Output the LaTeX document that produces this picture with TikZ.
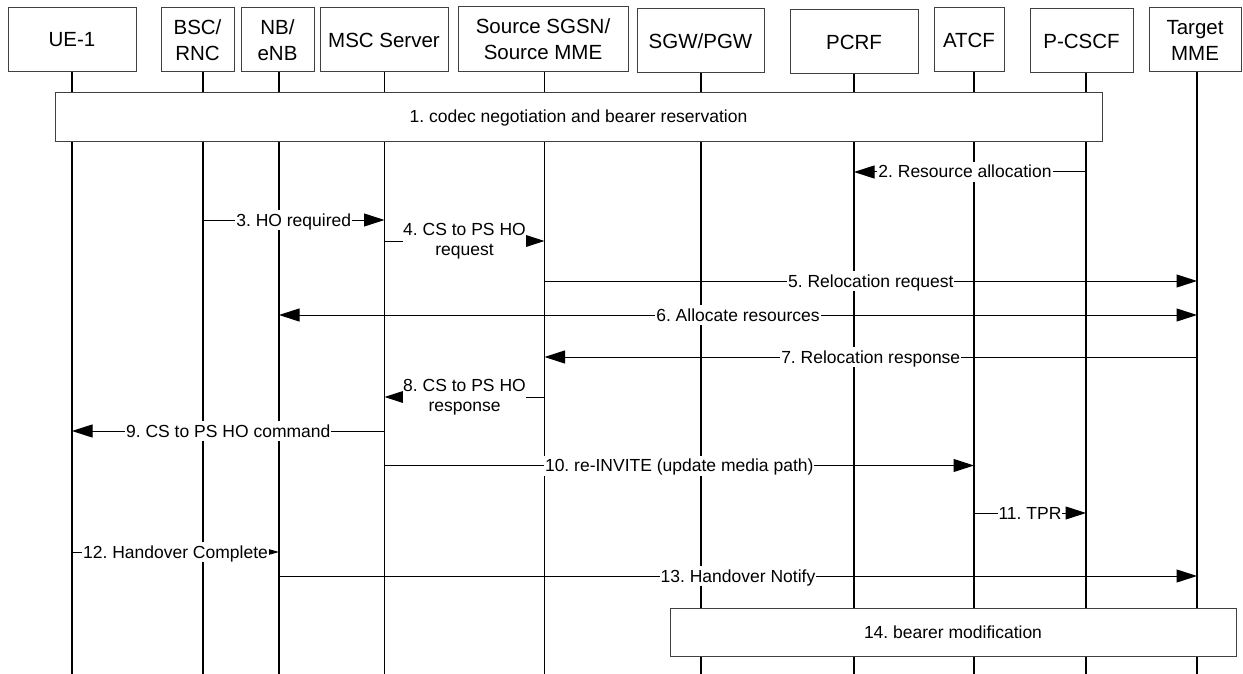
\documentclass[tikz,border=0pt]{standalone}
\usepackage{fontspec}
\setmainfont{Liberation Sans}
\usetikzlibrary{arrows.meta}
\newcommand\hdrfont{\fontsize{20.5}{26}\selectfont}
\newcommand\msgfont{\fontsize{17.5}{19.5}\selectfont}
\frenchspacing
\begin{document}
\begin{tikzpicture}[x=1pt,y=-1pt,
  >={Triangle[length=20.5pt,width=13pt]},
  hdr/.style={draw=black!75, line width=1pt, fill=white, align=center, font=\hdrfont, inner sep=0pt},
  life/.style={line width=1.2pt},
  msg/.style={line width=1pt},
  lbl/.style={fill=white, font=\msgfont, inner xsep=1pt, inner ysep=1.5pt, text height=14.5pt, text depth=2.5pt},
  lbltwo/.style={fill=white, font=\msgfont, align=center, inner xsep=0pt, inner ysep=0.5pt},
  bar/.style={draw=black!75, line width=1pt, fill=white, font=\msgfont, inner sep=0pt}]
\useasboundingbox (0,0) rectangle (1243,674);

% header boxes
\node[hdr, minimum width=128pt, minimum height=64pt] (ue)    at (72,40)      {UE-1};
\node[hdr, minimum width=73pt,  minimum height=64pt] (bsc)   at (197.5,40)   {BSC/\\RNC};
\node[hdr, minimum width=73pt,  minimum height=64pt] (nb)    at (277.5,40)   {NB/\\eNB};
\node[hdr, minimum width=128pt, minimum height=64pt] (msc)   at (384,40)     {MSC Server};
\node[hdr, minimum width=170pt, minimum height=65pt] (sgsn)  at (543,39.5)   {Source SGSN/\\Source MME};
\node[hdr, minimum width=127pt, minimum height=64pt] (sgw)   at (700.5,41)   {SGW/PGW};
\node[hdr, minimum width=128pt, minimum height=64pt] (pcrf)  at (854,42)     {PCRF};
\node[hdr, minimum width=70pt,  minimum height=64pt] (atcf)  at (969,40)     {ATCF};
\node[hdr, minimum width=103pt, minimum height=64pt] (pcscf) at (1081.5,41)  {P-CSCF};
\node[hdr, minimum width=92pt,  minimum height=64pt] (tmme)  at (1195,40)    {Target\\MME};

% lifeline tops
\coordinate (lUE)    at (72,72);
\coordinate (lBSC)   at (203,72);
\coordinate (lNB)    at (279,72);
\coordinate (lMSC)   at (384.5,72);
\coordinate (lSGSN)  at (544.5,72);
\coordinate (lSGW)   at (701,73);
\coordinate (lPCRF)  at (854,74);
\coordinate (lATCF)  at (974,72);
\coordinate (lPCSCF) at (1086,73);
\coordinate (lTMME)  at (1197,72);

\foreach \c in {lUE,lBSC,lNB,lMSC,lSGSN,lSGW,lPCRF,lATCF,lPCSCF,lTMME}
  \draw[life] (\c) -- (\c |- 0,674);

% bars
\node[bar, minimum width=1047pt, minimum height=49pt] (b1)  at (578.5,117.5) {1. codec negotiation and bearer reservation};
\node[bar, minimum width=566pt,  minimum height=48pt] (b14) at (953,632)     {14. bearer modification};

% messages
\draw[msg,->] (lPCSCF |- 0,172) -- node[lbl,xshift=-5pt] {2. Resource allocation} (lPCRF |- 0,172);
\draw[msg,->] (lBSC |- 0,220) -- node[lbl] {3. HO required} (lMSC |- 0,220);
\draw[msg,->] (lMSC |- 0,241) -- node[lbltwo] {4. CS to PS HO\\request} (lSGSN |- 0,241);
\draw[msg,->] (lSGSN |- 0,281) -- node[lbl] {5. Relocation request} (lTMME |- 0,281);
\draw[msg,<->] (lNB |- 0,315) -- node[lbl] {6. Allocate resources} (lTMME |- 0,315);
\draw[msg,->] (lTMME |- 0,357) -- node[lbl] {7. Relocation response} (lSGSN |- 0,357);
\draw[msg,->] (lSGSN |- 0,397) -- node[lbltwo] {8. CS to PS HO\\response} (lMSC |- 0,397);
\draw[msg,->] (lMSC |- 0,431) -- node[lbl] {9. CS to PS HO command} (lUE |- 0,431);
\draw[msg,->] (lMSC |- 0,465.5) -- node[lbl] {10. re-INVITE (update media path)} (lATCF |- 0,465.5);
\draw[msg,->] (lATCF |- 0,513) -- node[lbl] {11. TPR} (lPCSCF |- 0,513);
\draw[msg,-{Triangle[length=11pt,width=6pt]}] (lUE |- 0,552) -- node[lbl] {12. Handover Complete} (lNB |- 0,552);
\draw[msg,->] (lNB |- 0,576) -- node[lbl] {13. Handover Notify} (lTMME |- 0,576);
\end{tikzpicture}
\end{document}
